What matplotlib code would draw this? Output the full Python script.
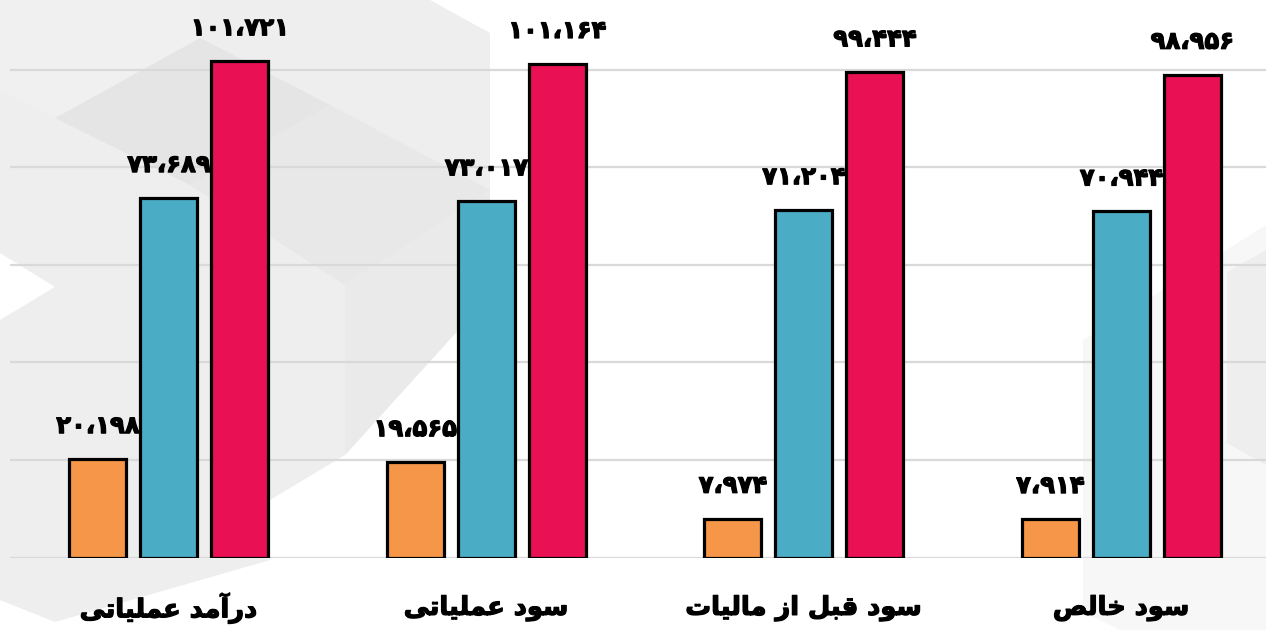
import numpy as np
import matplotlib
matplotlib.use('Agg')
import matplotlib.pyplot as plt
import matplotlib.patheffects as pe
from matplotlib.patches import Polygon
from matplotlib.transforms import blended_transform_factory

categories = ['درآمد عملیاتی', 'سود عملیاتی', 'سود قبل از مالیات', 'سود خالص']
series_a = [20198, 19565, 7974, 7914]
series_b = [73689, 73017, 71204, 70944]
series_c = [101721, 101164, 99444, 98956]
colors = ['#F59648', '#4BACC6', '#E91053']

# arabic presentation forms: isolated, final, initial, medial
FORMS = {
    'ا': ('\uFE8D', '\uFE8E', None, None),
    'آ': ('\uFE81', '\uFE82', None, None),
    'ب': ('\uFE8F', '\uFE90', '\uFE91', '\uFE92'),
    'ت': ('\uFE95', '\uFE96', '\uFE97', '\uFE98'),
    'خ': ('\uFEA5', '\uFEA6', '\uFEA7', '\uFEA8'),
    'د': ('\uFEA9', '\uFEAA', None, None),
    'ر': ('\uFEAD', '\uFEAE', None, None),
    'ز': ('\uFEAF', '\uFEB0', None, None),
    'س': ('\uFEB1', '\uFEB2', '\uFEB3', '\uFEB4'),
    'ص': ('\uFEB9', '\uFEBA', '\uFEBB', '\uFEBC'),
    'ع': ('\uFEC9', '\uFECA', '\uFECB', '\uFECC'),
    'ق': ('\uFED5', '\uFED6', '\uFED7', '\uFED8'),
    'ل': ('\uFEDD', '\uFEDE', '\uFEDF', '\uFEE0'),
    'م': ('\uFEE1', '\uFEE2', '\uFEE3', '\uFEE4'),
    'و': ('\uFEED', '\uFEEE', None, None),
    'ی': ('\uFBFC', '\uFBFD', '\uFBFE', '\uFBFF'),
}

def shape(s):
    '''join letters and put them in visual (left to right) order'''
    out = []
    for i, ch in enumerate(s):
        if ch not in FORMS:
            out.append(ch)
            continue
        prev = s[i-1] if i > 0 else None
        nxt = s[i+1] if i < len(s)-1 else None
        joins_prev = prev in FORMS and FORMS[prev][2] is not None
        joins_next = FORMS[ch][2] is not None and nxt in FORMS
        iso, fin, ini, med = FORMS[ch]
        if joins_prev and joins_next:
            out.append(med)
        elif joins_prev:
            out.append(fin)
        elif joins_next:
            out.append(ini)
        else:
            out.append(iso)
    return ''.join(out[::-1])

def fa_num(v):
    s = '{:,}'.format(v).replace(',', '\u060C')
    return s.translate(str.maketrans('0123456789', '۰۱۲۳۴۵۶۷۸۹'))

heavy = [pe.withStroke(linewidth=0.9, foreground='black')]

fig = plt.figure(figsize=(12.66, 6.3), dpi=100)

# background facets
bg = fig.add_axes([0, 0, 1, 1], zorder=0)
bg.set_xlim(0, 1266)
bg.set_ylim(630, 0)
bg.axis('off')
shapes = [
    ([(0, 0), (430, 0), (490, 33), (490, 295), (345, 455), (270, 500),
      (270, 560), (55, 622), (0, 600)], '#eeeeee'),
    ([(0, 253), (55, 287), (0, 320)], '#ffffff'),
    ([(55, 118), (200, 38), (330, 105), (190, 185)], '#e5e5e5'),
    ([(190, 185), (330, 105), (490, 190), (345, 285)], '#e8e8e8'),
    ([(345, 285), (490, 190), (490, 295), (345, 455)], '#eaeaea'),
    ([(0, 0), (200, 0), (200, 38), (55, 118), (0, 90)], '#f0f0f0'),
    ([(1266, 225), (1083, 340), (1083, 612), (1120, 630), (1266, 630)], '#f7f7f7'),
    ([(1266, 250), (1227, 272), (1227, 443), (1266, 465)], '#eeeeee'),
]
for pts, c in shapes:
    bg.add_patch(Polygon(pts, closed=True, facecolor=c, edgecolor='none'))

ax = fig.add_axes([10/1266, 72.5/630, 1270/1266, 536.8/630], zorder=1)
ax.patch.set_alpha(0)
x = np.arange(len(categories))
w = 0.18
step = 0.2236
for k, (vals, c) in enumerate(zip([series_a, series_b, series_c], colors)):
    pos = x + (k-1)*step
    ax.bar(pos, vals, width=w, color=c, edgecolor='black', linewidth=2.3, zorder=3)
    for px, v in zip(pos, vals):
        t = ax.annotate(fa_num(v), (px, v), xytext=(0, 15), textcoords='offset points',
                        ha='center', va='bottom', fontsize=17.5, fontweight='bold',
                        family='DejaVu Sans', zorder=4)
        t.set_path_effects(heavy)

ax.set_xlim(-0.5, 3.5)
ax.set_ylim(0, 110000)
ax.set_yticks(np.arange(0, 100001, 20000))
ax.yaxis.grid(True, color='#d9d9d9', linewidth=1.6)
ax.set_axisbelow(True)
ax.tick_params(length=0, labelleft=False, labelbottom=False)
for sp in ax.spines.values():
    sp.set_visible(False)

tr = blended_transform_factory(ax.transData, ax.transAxes)
for xi, name in zip(x, categories):
    t = ax.text(xi, -0.094, shape(name), transform=tr, ha='center', va='center',
                fontsize=18.5, fontweight='bold', family='DejaVu Sans')
    t.set_path_effects(heavy)

fig.savefig('out.png', dpi=100)
